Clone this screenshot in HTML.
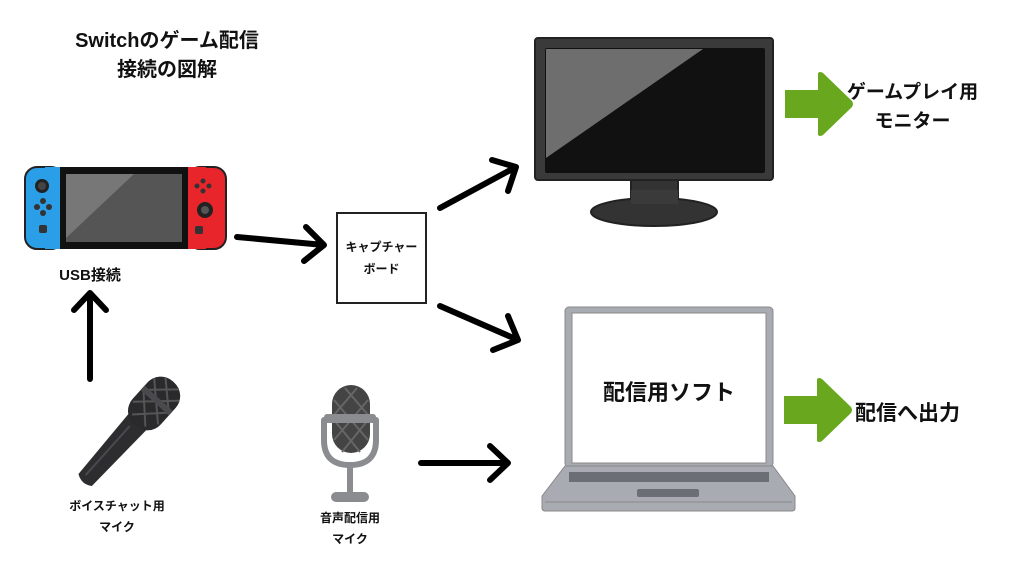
<!DOCTYPE html>
<html><head><meta charset="utf-8"><style>
html,body{margin:0;padding:0;background:#fff;}
body{width:1024px;height:571px;overflow:hidden;position:relative;font-family:"Liberation Sans","Noto Sans CJK JP",sans-serif;}
.t{position:absolute;font-weight:bold;color:#111;text-align:center;white-space:nowrap;}
</style></head><body>
<svg width="1024" height="571" style="position:absolute;left:0;top:0">
<g stroke="#000" stroke-width="6" fill="none" stroke-linecap="round" stroke-linejoin="round">
<path d="M90 379 L90 293 M74 310 L90 293 L106 310"/>
<path d="M237 237 L324 245 M306 227 L324 245 L304 261"/>
<path d="M440 208 L516 167 M492 160 L516 167 L508 191"/>
<path d="M440 306 L518 340 M508 316 L518 340 L493 350"/>
<path d="M421 463 L508 463 M490 446 L508 463 L490 480"/>
</g>
<rect x="337" y="213" width="89" height="90" fill="#fff" stroke="#222" stroke-width="2"/>
<rect x="25" y="167" width="38" height="82" rx="12" fill="#2b9ee8" stroke="#222" stroke-width="2"/>
<rect x="45" y="167" width="18" height="82" fill="#2b9ee8"/>
<rect x="188" y="167" width="38" height="82" rx="12" fill="#e8252b" stroke="#222" stroke-width="2"/>
<rect x="188" y="167" width="18" height="82" fill="#e8252b"/>
<rect x="60" y="167" width="128" height="82" fill="#111"/>
<rect x="66" y="174" width="116" height="68" fill="#555"/>
<path d="M66 174 L134 174 L66 238 Z" fill="#777"/>
<circle cx="42" cy="186" r="7" fill="#222"/><circle cx="42" cy="186" r="4" fill="#444"/>
<g fill="#333"><circle cx="43" cy="201" r="3"/><circle cx="37" cy="207" r="3"/><circle cx="49" cy="207" r="3"/><circle cx="43" cy="213" r="3"/>
<rect x="39" y="225" width="8" height="8" rx="2"/>
<circle cx="203" cy="181" r="2.5"/><circle cx="197" cy="186" r="2.5"/><circle cx="209" cy="186" r="2.5"/><circle cx="203" cy="191" r="2.5"/>
<rect x="195" y="226" width="8" height="8" rx="2"/></g>
<circle cx="205" cy="210" r="8" fill="#222"/><circle cx="205" cy="210" r="4" fill="#555"/>
<rect x="631" y="178" width="47" height="28" fill="#333" stroke="#222" stroke-width="2"/>
<ellipse cx="654" cy="212" rx="63" ry="14" fill="#333" stroke="#222" stroke-width="2"/>
<rect x="631" y="190" width="47" height="14" fill="#3a3a3a"/>
<rect x="535" y="38" width="238" height="142" rx="3" fill="#3a3a3a" stroke="#222" stroke-width="2"/>
<rect x="545" y="48" width="220" height="125" rx="2" fill="#111"/>
<path d="M546 49 L703 49 L546 158 Z" fill="#6e6e6e"/>
<path d="M785 90 L818 90 L818 73 Q820 71 823 73 L852 101 Q854 104 852 107 L823 135 Q820 137 818 135 L818 118 L785 118 Z" fill="#69a81e"/>
<path d="M784 396 L817 396 L817 379 Q819 377 822 379 L851 407 Q853 410 851 413 L822 441 Q819 443 817 441 L817 424 L784 424 Z" fill="#69a81e"/>
<rect x="565" y="307" width="208" height="160" rx="4" fill="#a9abb3" stroke="#888" stroke-width="1"/>
<rect x="572" y="313" width="194" height="150" fill="#fff" stroke="#888" stroke-width="1"/>
<path d="M565 466 L773 466 L795 496 L795 508 Q795 511 792 511 L545 511 Q542 511 542 508 L542 496 Z" fill="#a9abb3" stroke="#888" stroke-width="1"/>
<rect x="569" y="472" width="200" height="10" fill="#6c6e76"/>
<rect x="637" y="489" width="62" height="8" rx="2" fill="#6c6e76"/>
<line x1="545" y1="502" x2="792" y2="502" stroke="#888" stroke-width="1"/>
<g transform="translate(132,428) rotate(42)">
<path d="M-12 -8 L12 -8 L9 70 Q0 76 -9 70 Z" fill="#2d2d30"/>
<rect x="-19" y="-62" width="38" height="58" rx="18" fill="#2a2a2d"/>
<path d="M-17 -52 L17 -20 M-17 -36 L9 -10 M-9 -60 L17 -36 M17 -52 L-17 -20 M17 -36 L-9 -10 M9 -60 L-17 -36" stroke="#555" stroke-width="2"/>
<rect x="-19" y="-40" width="38" height="6" fill="#4a4a4e"/>
<line x1="-3" y1="0" x2="-3" y2="66" stroke="#4a4a4e" stroke-width="2"/>
</g>
<rect x="332" y="385" width="38" height="68" rx="19" fill="#444"/>
<path d="M334 400 L368 440 M334 420 L360 452 M345 388 L368 415 M368 400 L334 440 M368 420 L342 452 M357 388 L334 415" stroke="#666" stroke-width="2"/>
<path d="M324 420 L324 440 Q324 465 350 465 Q376 465 376 440 L376 420" stroke="#8a8c90" stroke-width="6" fill="none" stroke-linecap="round"/>
<rect x="324" y="414" width="52" height="9" rx="3" fill="#8a8c90"/>
<rect x="347" y="465" width="6" height="28" fill="#8a8c90"/>
<rect x="331" y="492" width="38" height="10" rx="5" fill="#8a8c90"/>
</svg>
<div class="t" style="left:57px;top:27px;width:220px;font-size:20px;line-height:29px;">Switchのゲーム配信<br>接続の図解</div>
<div class="t" style="left:40px;top:264px;width:100px;font-size:15px;">USB接続</div>
<div class="t" style="left:337px;top:236px;width:89px;font-size:12px;line-height:22px;">キャプチャー<br>ボード</div>
<div class="t" style="left:840px;top:78px;width:145px;font-size:19px;line-height:29px;">ゲームプレイ用<br>モニター</div>
<div class="t" style="left:572px;top:375px;width:194px;font-size:22px;">配信用ソフト</div>
<div class="t" style="left:850px;top:397px;width:115px;font-size:21px;">配信へ出力</div>
<div class="t" style="left:47px;top:496px;width:140px;font-size:12px;line-height:21px;">ボイスチャット用<br>マイク</div>
<div class="t" style="left:300px;top:508px;width:100px;font-size:12px;line-height:21px;">音声配信用<br>マイク</div>
</body></html>
